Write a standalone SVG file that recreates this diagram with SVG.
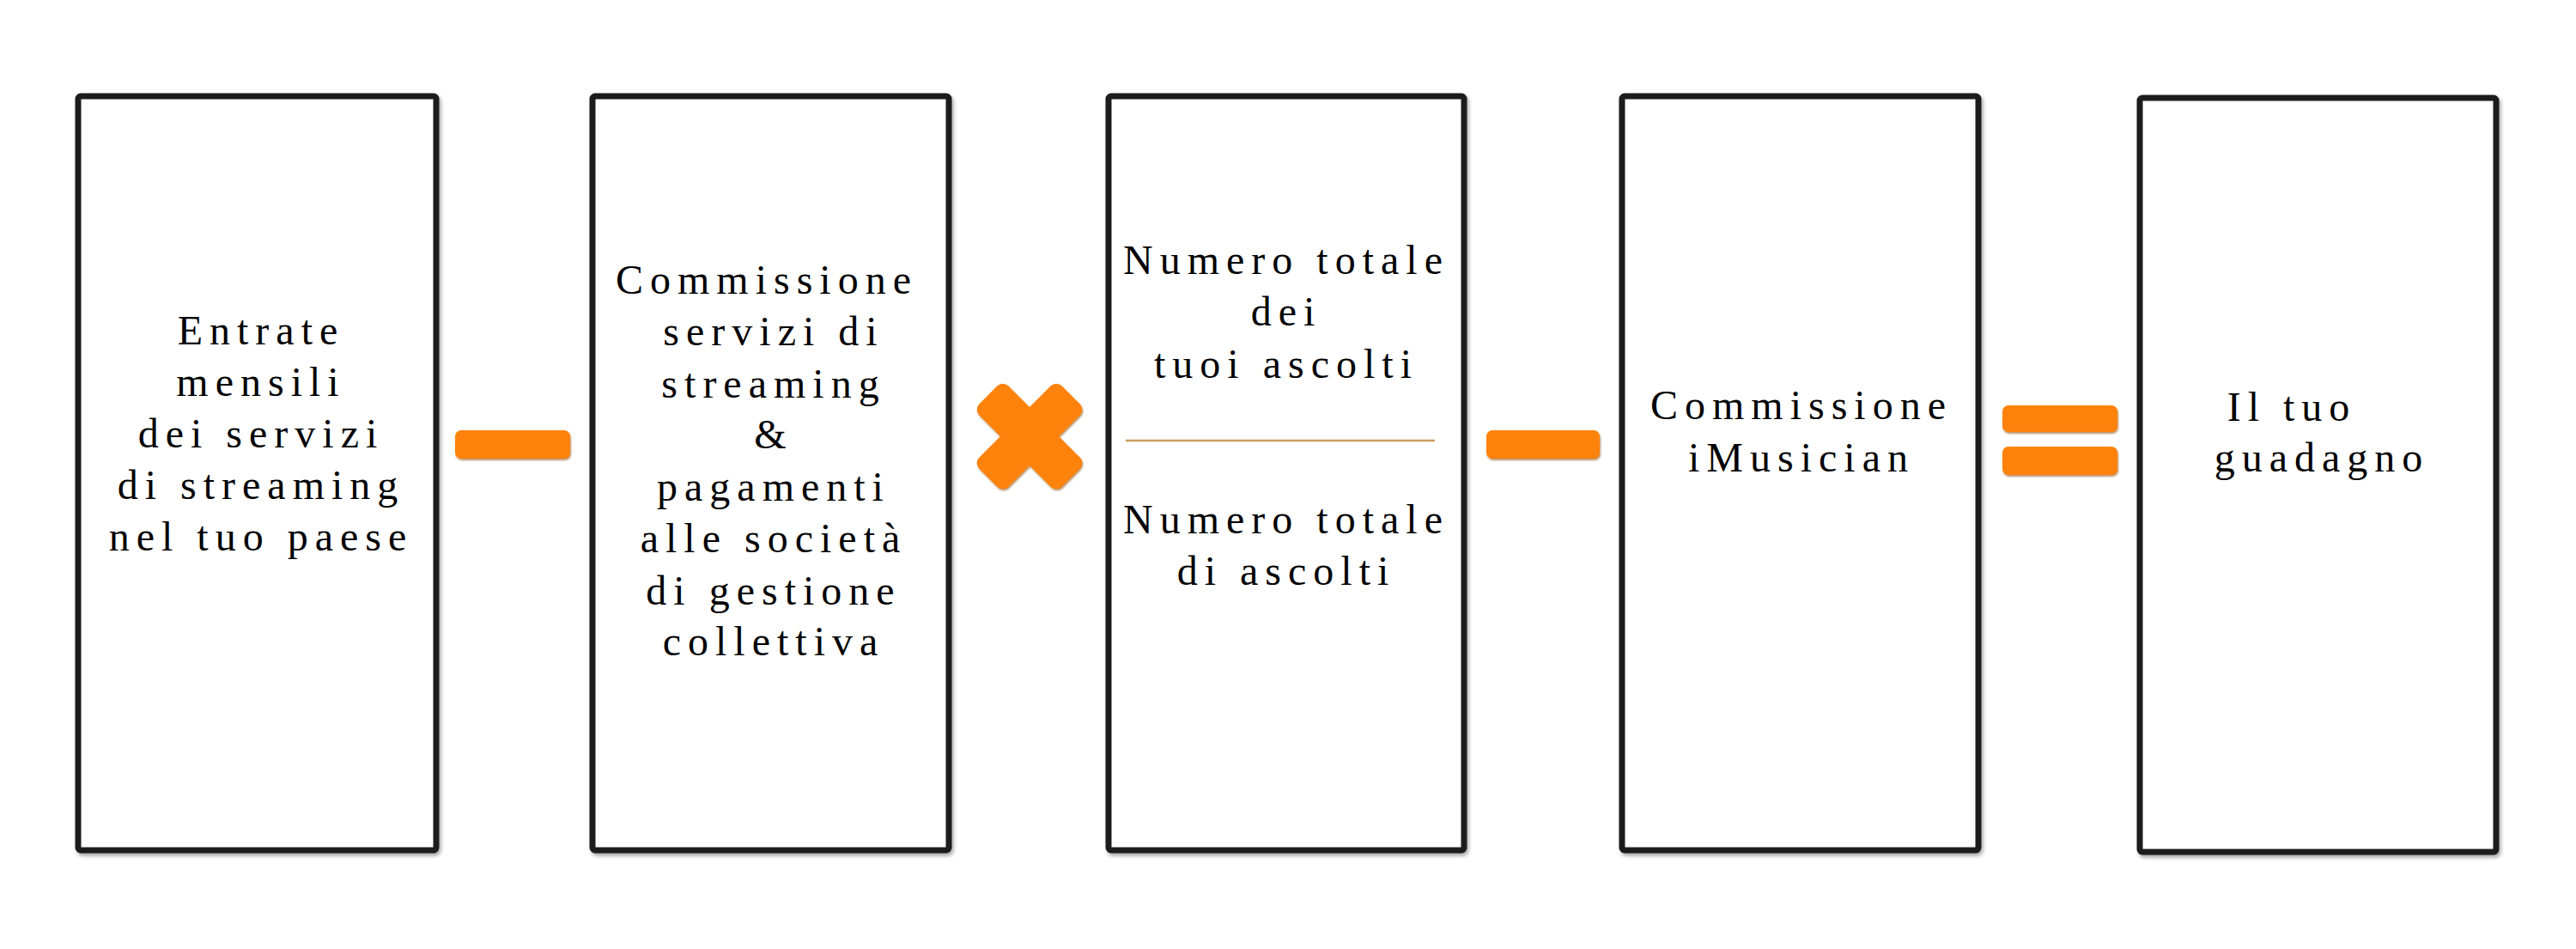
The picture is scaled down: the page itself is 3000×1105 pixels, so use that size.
<svg xmlns="http://www.w3.org/2000/svg" width="3000" height="1105" viewBox="0 0 3000 1105">
<style>
.box{fill:#fff;stroke:#1e1e1e;stroke-width:7;filter:url(#sh)}
.t{font-family:"Liberation Serif","Times New Roman",serif;font-size:48px;letter-spacing:8px;fill:#000;text-anchor:middle}
.op{fill:#ff8207;filter:url(#osh)}
</style>
<defs>
<filter id="sh" x="-5%" y="-5%" width="110%" height="110%">
<feDropShadow dx="2" dy="3" stdDeviation="2" flood-color="#000" flood-opacity="0.35"/>
</filter>
<filter id="osh" x="-10%" y="-10%" width="120%" height="130%">
<feDropShadow dx="1" dy="2" stdDeviation="1" flood-color="#8a4a00" flood-opacity="0.6"/>
</filter>
</defs>
<rect width="3000" height="1105" fill="#fff"/>
<g id="box1">
<rect class="box" x="91" y="112" width="417" height="878" rx="3"/>
<text class="t"><tspan x="304" y="401">Entrate</tspan><tspan x="304" y="461">mensili</tspan><tspan x="304" y="521">dei servizi</tspan><tspan x="304" y="581">di streaming</tspan><tspan x="304" y="641">nel tuo paese</tspan></text>
</g>
<g id="box2">
<rect class="box" x="690" y="112" width="415" height="878" rx="3"/>
<text class="t"><tspan x="893" y="342">Commissione</tspan><tspan x="901" y="402">servizi di</tspan><tspan x="901" y="463">streaming</tspan><tspan x="901" y="522">&amp;</tspan><tspan x="901" y="583">pagamenti</tspan><tspan x="901" y="643">alle società</tspan><tspan x="901" y="704">di gestione</tspan><tspan x="901" y="763">collettiva</tspan></text>
</g>
<g id="box3">
<rect class="box" x="1291" y="112" width="414" height="878" rx="3"/>
<text class="t"><tspan x="1498" y="319">Numero totale</tspan><tspan x="1498" y="379">dei</tspan><tspan x="1498" y="440">tuoi ascolti</tspan><tspan x="1498" y="621">Numero totale</tspan><tspan x="1498" y="681">di ascolti</tspan></text>
<line x1="1311" y1="513" x2="1671" y2="513" stroke="#c89a5e" stroke-width="2.5"/>
</g>
<g id="box4">
<rect class="box" x="1889" y="112" width="415" height="878" rx="3"/>
<text class="t"><tspan x="2098" y="488">Commissione</tspan><tspan x="2098" y="549">iMusician</tspan></text>
</g>
<g id="box5">
<rect class="box" x="2492" y="114" width="415" height="878" rx="3"/>
<text class="t"><tspan x="2669" y="490">Il tuo</tspan><tspan x="2704" y="549">guadagno</tspan></text>
</g>
<g id="operators">
<rect class="op" x="530" y="501" width="134" height="33" rx="7"/>
<g class="op">
<rect x="1131" y="484" width="136" height="48" rx="9" transform="rotate(45 1199 508)"/>
<rect x="1131" y="484" width="136" height="48" rx="9" transform="rotate(-45 1199 508)"/>
</g>
<rect class="op" x="1731" y="501" width="132" height="33" rx="7"/>
<rect class="op" x="2332" y="472" width="134" height="31" rx="7"/>
<rect class="op" x="2332" y="520" width="134" height="33" rx="7"/>
</g>
</svg>
